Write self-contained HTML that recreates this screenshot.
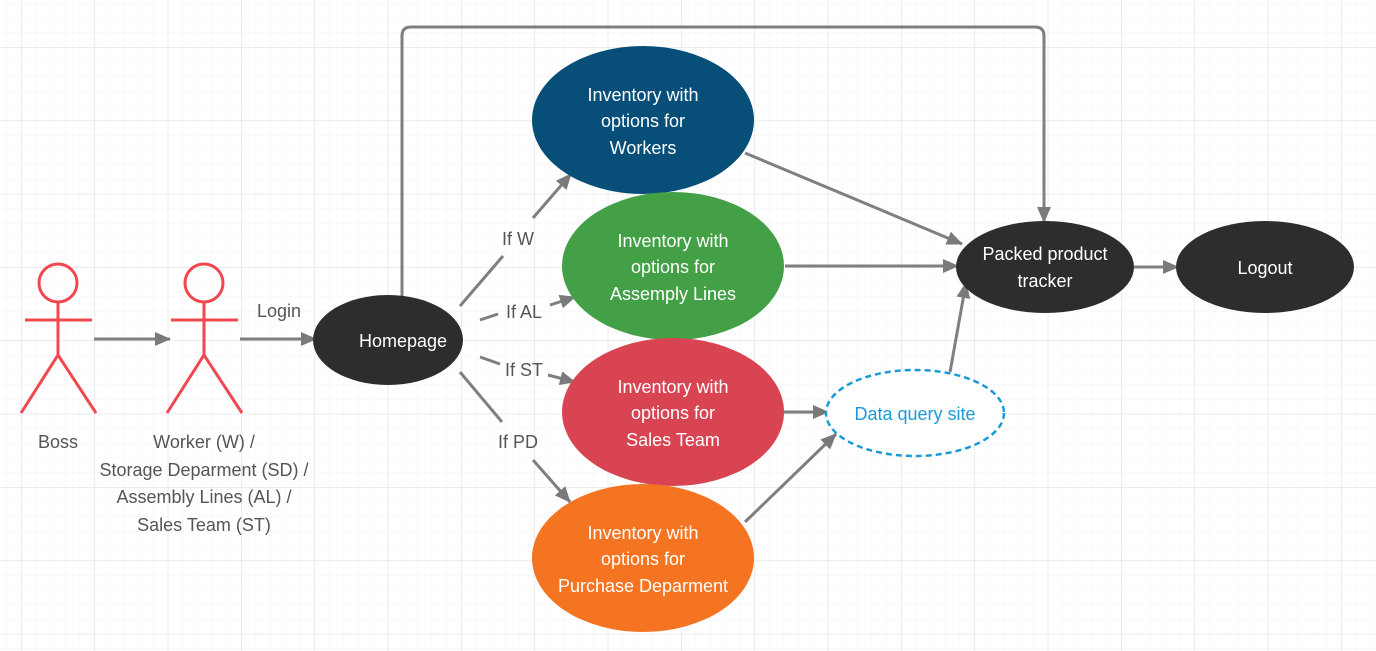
<!DOCTYPE html>
<html><head><meta charset="utf-8"><style>
html,body{margin:0;padding:0;background:#fff;}
svg{display:block;font-family:"Liberation Sans",sans-serif;}
</style></head><body>
<svg width="1376" height="651" viewBox="0 0 1376 651" xmlns="http://www.w3.org/2000/svg">
<defs>
<pattern id="minor" x="21" y="47" width="14.667" height="14.667" patternUnits="userSpaceOnUse">
<path d="M0 0H14.667M0 0V14.667" stroke="#f3f3f3" stroke-width="1" fill="none"/>
</pattern>
<pattern id="major" x="21" y="47" width="73.333" height="73.333" patternUnits="userSpaceOnUse">
<path d="M0 0H73.333M0 0V73.333" stroke="#e6e6e6" stroke-width="1.5" fill="none"/>
</pattern>
<marker id="ah" markerWidth="10" markerHeight="10" refX="8" refY="5" orient="auto" markerUnits="userSpaceOnUse" viewBox="0 0 10 10">
<path d="M0 0L10 5L0 10Z" fill="#7a7a7a"/>
</marker>
<marker id="a" markerWidth="16" markerHeight="14" refX="15" refY="7" orient="auto" markerUnits="userSpaceOnUse">
<path d="M0 0L16 7L0 14Z" fill="#7a7a7a"/>
</marker>
</defs>
<rect width="1376" height="651" fill="#fff"/>
<rect width="1376" height="651" fill="url(#minor)"/>
<rect width="1376" height="651" fill="url(#major)"/>

<g stroke="#7f7f7f" stroke-width="3" fill="none">
<line x1="94" y1="339" x2="170" y2="339" marker-end="url(#a)"/>
<line x1="240" y1="339" x2="316" y2="339" marker-end="url(#a)"/>
<path d="M402 296V36Q402 27 411 27H1035Q1044 27 1044 36V222" marker-end="url(#a)"/>
<line x1="460" y1="306" x2="503" y2="256"/>
<line x1="533" y1="218" x2="571" y2="174" marker-end="url(#a)"/>
<line x1="480" y1="320" x2="498" y2="314"/>
<line x1="550" y1="305" x2="575" y2="297" marker-end="url(#a)"/>
<line x1="480" y1="357" x2="500" y2="364"/>
<line x1="548" y1="375" x2="575" y2="382" marker-end="url(#a)"/>
<line x1="460" y1="372" x2="502" y2="422"/>
<line x1="533" y1="460" x2="570" y2="502" marker-end="url(#a)"/>
<line x1="745" y1="153" x2="962" y2="244" marker-end="url(#a)"/>
<line x1="785" y1="266" x2="958" y2="266" marker-end="url(#a)"/>
<line x1="1134" y1="267" x2="1178" y2="267" marker-end="url(#a)"/>
<line x1="784" y1="412" x2="828" y2="412" marker-end="url(#a)"/>
<line x1="745" y1="522" x2="836" y2="434" marker-end="url(#a)"/>
<line x1="950" y1="372" x2="966" y2="283" marker-end="url(#a)"/>
</g>

<g stroke="#f0484e" stroke-width="3" fill="none">
<circle cx="58" cy="283" r="19"/>
<line x1="58" y1="302" x2="58" y2="355"/>
<line x1="25" y1="320" x2="92" y2="320"/>
<path d="M21 413L58 355L96 413"/>
<circle cx="204" cy="283" r="19"/>
<line x1="204" y1="302" x2="204" y2="355"/>
<line x1="171" y1="320" x2="238" y2="320"/>
<path d="M167 413L204 355L242 413"/>
</g>

<ellipse cx="643" cy="120" rx="111" ry="74" fill="#074f79"/>
<ellipse cx="673" cy="266" rx="111" ry="74" fill="#43a047"/>
<ellipse cx="673" cy="412" rx="111" ry="74" fill="#d94453"/>
<ellipse cx="643" cy="558" rx="111" ry="74" fill="#f47421"/>
<ellipse cx="388" cy="340" rx="75" ry="45" fill="#2d2d2d"/>
<ellipse cx="1045" cy="267" rx="89" ry="46" fill="#2d2d2d"/>
<ellipse cx="1265" cy="267" rx="89" ry="46" fill="#2d2d2d"/>
<ellipse cx="915" cy="413" rx="89" ry="43" fill="#fff" stroke="#1a9bd7" stroke-width="2.5" stroke-dasharray="6,4"/>

<g font-size="18" fill="#fff" text-anchor="middle">
<text x="643" y="101">Inventory with</text><text x="643" y="127">options for</text><text x="643" y="154">Workers</text>
<text x="673" y="247">Inventory with</text><text x="673" y="273">options for</text><text x="673" y="300">Assemply Lines</text>
<text x="673" y="393">Inventory with</text><text x="673" y="419">options for</text><text x="673" y="446">Sales Team</text>
<text x="643" y="539">Inventory with</text><text x="643" y="565">options for</text><text x="643" y="592">Purchase Deparment</text>
<text x="403" y="347">Homepage</text>
<text x="1045" y="260">Packed product</text><text x="1045" y="287">tracker</text>
<text x="1265" y="274">Logout</text>
</g>
<text x="915" y="420" font-size="18" fill="#1a9bd7" text-anchor="middle">Data query site</text>

<g font-size="18" fill="#555" text-anchor="middle">
<text x="279" y="317">Login</text>
<text x="518" y="245">If W</text>
<text x="524" y="318">If AL</text>
<text x="524" y="376">If ST</text>
<text x="518" y="448">If PD</text>
<text x="58" y="448">Boss</text>
<text x="204" y="448">Worker (W) /</text>
<text x="204" y="476">Storage Deparment (SD) /</text>
<text x="204" y="503">Assembly Lines (AL) /</text>
<text x="204" y="531">Sales Team (ST)</text>
</g>
</svg>
</body></html>
